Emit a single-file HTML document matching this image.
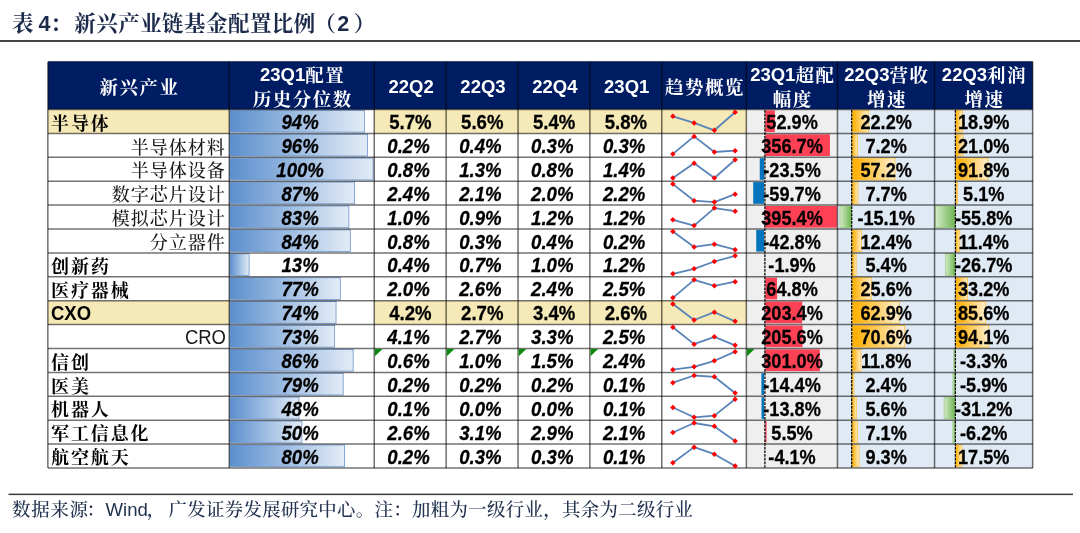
<!DOCTYPE html>
<html lang="zh-CN">
<head>
<meta charset="utf-8">
<title>表 4：新兴产业链基金配置比例（2）</title>
<style>
html,body{margin:0;padding:0;background:#fff;}
body{width:1080px;height:533px;position:relative;overflow:hidden;font-family:"Liberation Sans","Noto Serif CJK SC",sans-serif;}
svg{position:absolute;left:0;top:0;}
div,h1,p{position:absolute;white-space:nowrap;line-height:24px;font-size:18.5px;margin:0;padding:0;}
.title{left:12px;top:10.2px;font-size:21.5px;font-weight:700;color:#1b2a4a;letter-spacing:0.45px;line-height:28px;word-spacing:-2px;}
.title span{letter-spacing:0;font-size:21.5px;}
.title .c{margin-right:2px;letter-spacing:0.45px;}
.title .p{margin-left:-1.5px;margin-right:1px;letter-spacing:0.45px;}
.title .q{margin-left:4.5px;}
.foot{left:12px;top:498.2px;font-size:18.4px;color:#22324f;letter-spacing:0.35px;line-height:24px;font-weight:500;}
.foot span{letter-spacing:0;font-size:18.6px;}
.foot .a{letter-spacing:0.8px;font-size:18.4px;}
.foot .c{letter-spacing:0;font-size:18.4px;margin-left:-2.3px;margin-right:0.6px;}
.foot .m{letter-spacing:0;font-size:18.4px;margin-left:-1px;margin-right:3.2px;}
.h{color:#fff;font-weight:700;text-align:center;font-size:18.5px;letter-spacing:1.5px;text-indent:1.5px;}
.h span{letter-spacing:0;position:relative;top:-1.1px;}
.n{color:#000;letter-spacing:1px;font-size:18px;}
.b{font-weight:700;text-align:left;letter-spacing:1.9px;}
.s{font-weight:500;text-align:right;color:#1a1a1a;}
.s span,.b span{letter-spacing:0;position:relative;top:-1.2px;font-size:18.5px;display:inline-block;transform:scaleY(1.045);transform-origin:50% 76%;}
.v{color:#000;font-weight:700;text-align:center;font-size:18.6px;-webkit-text-stroke:0.25px #000;transform:scaleY(1.04);transform-origin:50% 76%;}
.w{font-size:18.15px;transform:scaleY(1.065);}
.i{font-style:italic;margin-left:-1.8px;}
</style>
</head>
<body>
<svg width="1080" height="533" viewBox="0 0 1080 533">
<defs><linearGradient id="gb" x1="0" y1="0" x2="1" y2="0"><stop offset="0" stop-color="#5B8FCD"/><stop offset="1" stop-color="#E3ECF7"/></linearGradient><linearGradient id="go" x1="0" y1="0" x2="1" y2="0"><stop offset="0" stop-color="#FFB000"/><stop offset="0.12" stop-color="#FFB410"/><stop offset="1" stop-color="#FFEFD0"/></linearGradient><linearGradient id="gg" x1="0" y1="0" x2="1" y2="0"><stop offset="0" stop-color="#D3EAC8"/><stop offset="1" stop-color="#6FB552"/></linearGradient></defs>
<rect x="0.00" y="40.00" width="1080.00" height="2.00" fill="#454545"/>
<rect x="8.50" y="493.60" width="1064.50" height="1.50" fill="#3a3a3a"/>
<rect x="48.00" y="61.80" width="984.80" height="47.70" fill="#001D64"/>
<rect x="746.50" y="109.50" width="91.10" height="358.50" fill="#EFEFEF"/>
<rect x="837.60" y="109.50" width="195.20" height="358.50" fill="#E0EAF4"/>
<rect x="48.00" y="109.50" width="181.40" height="23.90" fill="#F5E9B7"/>
<rect x="374.40" y="109.50" width="372.10" height="23.90" fill="#F5E9B7"/>
<rect x="48.00" y="300.70" width="181.40" height="23.90" fill="#F5E9B7"/>
<rect x="374.40" y="300.70" width="372.10" height="23.90" fill="#F5E9B7"/>
<rect x="229.90" y="110.40" width="134.65" height="21.70" fill="url(#gb)" stroke="#6A94CC" stroke-width="0.8"/>
<rect x="765.30" y="110.40" width="9.59" height="21.70" fill="#FF4156"/>
<rect x="852.10" y="110.40" width="16.61" height="21.70" fill="url(#go)" stroke="#FFBE3C" stroke-width="0.8"/>
<rect x="955.80" y="110.40" width="6.60" height="21.70" fill="url(#go)" stroke="#FFBE3C" stroke-width="0.8"/>
<rect x="229.90" y="134.30" width="137.50" height="21.70" fill="url(#gb)" stroke="#6A94CC" stroke-width="0.8"/>
<rect x="765.30" y="134.30" width="64.63" height="21.70" fill="#FF4156"/>
<rect x="852.10" y="134.30" width="5.39" height="21.70" fill="url(#go)" stroke="#FFBE3C" stroke-width="0.8"/>
<rect x="955.80" y="134.30" width="7.33" height="21.70" fill="url(#go)" stroke="#FFBE3C" stroke-width="0.8"/>
<rect x="229.90" y="158.20" width="143.20" height="21.70" fill="url(#gb)" stroke="#6A94CC" stroke-width="0.8"/>
<rect x="759.74" y="158.20" width="4.26" height="21.70" fill="#0075BE"/>
<rect x="852.10" y="158.20" width="42.79" height="21.70" fill="url(#go)" stroke="#FFBE3C" stroke-width="0.8"/>
<rect x="955.80" y="158.20" width="32.04" height="21.70" fill="url(#go)" stroke="#FFBE3C" stroke-width="0.8"/>
<rect x="229.90" y="182.10" width="124.68" height="21.70" fill="url(#gb)" stroke="#6A94CC" stroke-width="0.8"/>
<rect x="753.18" y="182.10" width="10.82" height="21.70" fill="#0075BE"/>
<rect x="852.10" y="182.10" width="5.76" height="21.70" fill="url(#go)" stroke="#FFBE3C" stroke-width="0.8"/>
<rect x="955.80" y="182.10" width="1.78" height="21.70" fill="url(#go)" stroke="#FFBE3C" stroke-width="0.8"/>
<rect x="229.90" y="206.00" width="118.98" height="21.70" fill="url(#gb)" stroke="#6A94CC" stroke-width="0.8"/>
<rect x="765.30" y="206.00" width="71.65" height="21.70" fill="#FF4156"/>
<rect x="840.01" y="206.00" width="11.29" height="21.70" fill="url(#gg)" stroke="#8CC56F" stroke-width="0.6"/>
<rect x="935.53" y="206.00" width="19.47" height="21.70" fill="url(#gg)" stroke="#8CC56F" stroke-width="0.6"/>
<rect x="229.90" y="229.90" width="120.40" height="21.70" fill="url(#gb)" stroke="#6A94CC" stroke-width="0.8"/>
<rect x="756.24" y="229.90" width="7.76" height="21.70" fill="#0075BE"/>
<rect x="852.10" y="229.90" width="9.28" height="21.70" fill="url(#go)" stroke="#FFBE3C" stroke-width="0.8"/>
<rect x="955.80" y="229.90" width="3.98" height="21.70" fill="url(#go)" stroke="#FFBE3C" stroke-width="0.8"/>
<rect x="229.90" y="253.80" width="19.23" height="21.70" fill="url(#gb)" stroke="#6A94CC" stroke-width="0.8"/>
<rect x="852.10" y="253.80" width="4.04" height="21.70" fill="url(#go)" stroke="#FFBE3C" stroke-width="0.8"/>
<rect x="945.68" y="253.80" width="9.32" height="21.70" fill="url(#gg)" stroke="#8CC56F" stroke-width="0.6"/>
<rect x="229.90" y="277.70" width="110.43" height="21.70" fill="url(#gb)" stroke="#6A94CC" stroke-width="0.8"/>
<rect x="765.30" y="277.70" width="11.74" height="21.70" fill="#FF4156"/>
<rect x="852.10" y="277.70" width="19.15" height="21.70" fill="url(#go)" stroke="#FFBE3C" stroke-width="0.8"/>
<rect x="955.80" y="277.70" width="11.59" height="21.70" fill="url(#go)" stroke="#FFBE3C" stroke-width="0.8"/>
<rect x="229.90" y="301.60" width="106.15" height="21.70" fill="url(#gb)" stroke="#6A94CC" stroke-width="0.8"/>
<rect x="765.30" y="301.60" width="36.86" height="21.70" fill="#FF4156"/>
<rect x="852.10" y="301.60" width="47.05" height="21.70" fill="url(#go)" stroke="#FFBE3C" stroke-width="0.8"/>
<rect x="955.80" y="301.60" width="29.87" height="21.70" fill="url(#go)" stroke="#FFBE3C" stroke-width="0.8"/>
<rect x="229.90" y="325.50" width="104.73" height="21.70" fill="url(#gb)" stroke="#6A94CC" stroke-width="0.8"/>
<rect x="765.30" y="325.50" width="37.25" height="21.70" fill="#FF4156"/>
<rect x="852.10" y="325.50" width="52.81" height="21.70" fill="url(#go)" stroke="#FFBE3C" stroke-width="0.8"/>
<rect x="955.80" y="325.50" width="32.84" height="21.70" fill="url(#go)" stroke="#FFBE3C" stroke-width="0.8"/>
<rect x="229.90" y="349.40" width="123.25" height="21.70" fill="url(#gb)" stroke="#6A94CC" stroke-width="0.8"/>
<rect x="765.30" y="349.40" width="54.54" height="21.70" fill="#FF4156"/>
<rect x="852.10" y="349.40" width="8.83" height="21.70" fill="url(#go)" stroke="#FFBE3C" stroke-width="0.8"/>
<rect x="953.85" y="349.40" width="1.15" height="21.70" fill="url(#gg)" stroke="#8CC56F" stroke-width="0.6"/>
<rect x="229.90" y="373.30" width="113.28" height="21.70" fill="url(#gb)" stroke="#6A94CC" stroke-width="0.8"/>
<rect x="761.39" y="373.30" width="2.61" height="21.70" fill="#0075BE"/>
<rect x="852.10" y="373.30" width="1.80" height="21.70" fill="url(#go)" stroke="#FFBE3C" stroke-width="0.8"/>
<rect x="952.94" y="373.30" width="2.06" height="21.70" fill="url(#gg)" stroke="#8CC56F" stroke-width="0.6"/>
<rect x="229.90" y="397.20" width="69.10" height="21.70" fill="url(#gb)" stroke="#6A94CC" stroke-width="0.8"/>
<rect x="761.50" y="397.20" width="2.50" height="21.70" fill="#0075BE"/>
<rect x="852.10" y="397.20" width="4.19" height="21.70" fill="url(#go)" stroke="#FFBE3C" stroke-width="0.8"/>
<rect x="944.11" y="397.20" width="10.89" height="21.70" fill="url(#gg)" stroke="#8CC56F" stroke-width="0.6"/>
<rect x="229.90" y="421.10" width="71.95" height="21.70" fill="url(#gb)" stroke="#6A94CC" stroke-width="0.8"/>
<rect x="765.30" y="421.10" width="1.30" height="21.70" fill="#FF4156"/>
<rect x="852.10" y="421.10" width="5.31" height="21.70" fill="url(#go)" stroke="#FFBE3C" stroke-width="0.8"/>
<rect x="952.84" y="421.10" width="2.16" height="21.70" fill="url(#gg)" stroke="#8CC56F" stroke-width="0.6"/>
<rect x="229.90" y="445.00" width="114.70" height="21.70" fill="url(#gb)" stroke="#6A94CC" stroke-width="0.8"/>
<rect x="852.10" y="445.00" width="6.96" height="21.70" fill="url(#go)" stroke="#FFBE3C" stroke-width="0.8"/>
<rect x="955.80" y="445.00" width="6.11" height="21.70" fill="url(#go)" stroke="#FFBE3C" stroke-width="0.8"/>
<line x1="48.00" y1="109.50" x2="1032.80" y2="109.50" stroke="#000" stroke-width="1.5" stroke-opacity="0.55"/>
<line x1="48.00" y1="133.40" x2="1032.80" y2="133.40" stroke="#000" stroke-width="1.5" stroke-opacity="0.55"/>
<line x1="48.00" y1="157.30" x2="1032.80" y2="157.30" stroke="#000" stroke-width="1.5" stroke-opacity="0.55"/>
<line x1="48.00" y1="181.20" x2="1032.80" y2="181.20" stroke="#000" stroke-width="1.5" stroke-opacity="0.55"/>
<line x1="48.00" y1="205.10" x2="1032.80" y2="205.10" stroke="#000" stroke-width="1.5" stroke-opacity="0.55"/>
<line x1="48.00" y1="229.00" x2="1032.80" y2="229.00" stroke="#000" stroke-width="1.5" stroke-opacity="0.55"/>
<line x1="48.00" y1="252.90" x2="1032.80" y2="252.90" stroke="#000" stroke-width="1.5" stroke-opacity="0.55"/>
<line x1="48.00" y1="276.80" x2="1032.80" y2="276.80" stroke="#000" stroke-width="1.5" stroke-opacity="0.55"/>
<line x1="48.00" y1="300.70" x2="1032.80" y2="300.70" stroke="#000" stroke-width="1.5" stroke-opacity="0.55"/>
<line x1="48.00" y1="324.60" x2="1032.80" y2="324.60" stroke="#000" stroke-width="1.5" stroke-opacity="0.55"/>
<line x1="48.00" y1="348.50" x2="1032.80" y2="348.50" stroke="#000" stroke-width="1.5" stroke-opacity="0.55"/>
<line x1="48.00" y1="372.40" x2="1032.80" y2="372.40" stroke="#000" stroke-width="1.5" stroke-opacity="0.55"/>
<line x1="48.00" y1="396.30" x2="1032.80" y2="396.30" stroke="#000" stroke-width="1.5" stroke-opacity="0.55"/>
<line x1="48.00" y1="420.20" x2="1032.80" y2="420.20" stroke="#000" stroke-width="1.5" stroke-opacity="0.55"/>
<line x1="48.00" y1="444.10" x2="1032.80" y2="444.10" stroke="#000" stroke-width="1.5" stroke-opacity="0.55"/>
<line x1="48.00" y1="468.00" x2="1032.80" y2="468.00" stroke="#000" stroke-width="1.5" stroke-opacity="0.55"/>
<line x1="47.85" y1="61.80" x2="47.85" y2="468.00" stroke="#000" stroke-width="1.5" stroke-opacity="0.56"/>
<line x1="229.25" y1="61.80" x2="229.25" y2="468.00" stroke="#000" stroke-width="1.5" stroke-opacity="0.56"/>
<line x1="374.25" y1="61.80" x2="374.25" y2="468.00" stroke="#000" stroke-width="1.5" stroke-opacity="0.56"/>
<line x1="446.15" y1="61.80" x2="446.15" y2="468.00" stroke="#000" stroke-width="1.5" stroke-opacity="0.56"/>
<line x1="518.05" y1="61.80" x2="518.05" y2="468.00" stroke="#000" stroke-width="1.5" stroke-opacity="0.56"/>
<line x1="589.85" y1="61.80" x2="589.85" y2="468.00" stroke="#000" stroke-width="1.5" stroke-opacity="0.56"/>
<line x1="661.75" y1="61.80" x2="661.75" y2="468.00" stroke="#000" stroke-width="1.5" stroke-opacity="0.56"/>
<line x1="746.35" y1="61.80" x2="746.35" y2="468.00" stroke="#000" stroke-width="1.5" stroke-opacity="0.56"/>
<line x1="837.45" y1="61.80" x2="837.45" y2="468.00" stroke="#000" stroke-width="1.5" stroke-opacity="0.56"/>
<line x1="934.55" y1="61.80" x2="934.55" y2="468.00" stroke="#000" stroke-width="1.5" stroke-opacity="0.56"/>
<line x1="1032.65" y1="61.80" x2="1032.65" y2="468.00" stroke="#000" stroke-width="1.5" stroke-opacity="0.56"/>
<line x1="48.00" y1="61.80" x2="1032.80" y2="61.80" stroke="#0a1238" stroke-width="1.0"/>
<line x1="764.90" y1="110.00" x2="764.90" y2="467.50" stroke="#000" stroke-width="1.25" stroke-dasharray="2.7 1.0"/>
<line x1="851.70" y1="110.00" x2="851.70" y2="467.50" stroke="#000" stroke-width="1.25" stroke-dasharray="2.7 1.0"/>
<line x1="955.40" y1="110.00" x2="955.40" y2="467.50" stroke="#000" stroke-width="1.25" stroke-dasharray="2.7 1.0"/>
<path d="M374.90 349.00h7.6l-7.6 7.2z" fill="#0A8A0A"/>
<path d="M446.80 349.00h7.6l-7.6 7.2z" fill="#0A8A0A"/>
<path d="M518.70 349.00h7.6l-7.6 7.2z" fill="#0A8A0A"/>
<path d="M590.50 349.00h7.6l-7.6 7.2z" fill="#0A8A0A"/>
<path d="M747.00 349.00h7.6l-7.6 7.2z" fill="#0A8A0A"/>
<polyline points="672.9,116.3 694.1,122.9 714.4,130.3 735.1,112.2" fill="none" stroke="#5884B8" stroke-width="1.8" stroke-linejoin="round"/>
<path d="M672.9 113.5l2.75 2.75l-2.75 2.75l-2.75 -2.75z" fill="#F00"/>
<path d="M694.1 120.2l2.75 2.75l-2.75 2.75l-2.75 -2.75z" fill="#F00"/>
<path d="M714.4 127.6l2.75 2.75l-2.75 2.75l-2.75 -2.75z" fill="#F00"/>
<path d="M735.1 109.5l2.75 2.75l-2.75 2.75l-2.75 -2.75z" fill="#F00"/>
<polyline points="672.9,153.9 694.1,136.4 714.4,152.0 735.1,150.7" fill="none" stroke="#5884B8" stroke-width="1.8" stroke-linejoin="round"/>
<path d="M672.9 151.2l2.75 2.75l-2.75 2.75l-2.75 -2.75z" fill="#F00"/>
<path d="M694.1 133.7l2.75 2.75l-2.75 2.75l-2.75 -2.75z" fill="#F00"/>
<path d="M714.4 149.2l2.75 2.75l-2.75 2.75l-2.75 -2.75z" fill="#F00"/>
<path d="M735.1 147.9l2.75 2.75l-2.75 2.75l-2.75 -2.75z" fill="#F00"/>
<polyline points="672.9,178.0 694.1,163.2 714.4,178.0 735.1,159.8" fill="none" stroke="#5884B8" stroke-width="1.8" stroke-linejoin="round"/>
<path d="M672.9 175.2l2.75 2.75l-2.75 2.75l-2.75 -2.75z" fill="#F00"/>
<path d="M694.1 160.4l2.75 2.75l-2.75 2.75l-2.75 -2.75z" fill="#F00"/>
<path d="M714.4 175.2l2.75 2.75l-2.75 2.75l-2.75 -2.75z" fill="#F00"/>
<path d="M735.1 157.1l2.75 2.75l-2.75 2.75l-2.75 -2.75z" fill="#F00"/>
<polyline points="672.9,184.1 694.1,200.7 714.4,202.1 735.1,194.2" fill="none" stroke="#5884B8" stroke-width="1.8" stroke-linejoin="round"/>
<path d="M672.9 181.3l2.75 2.75l-2.75 2.75l-2.75 -2.75z" fill="#F00"/>
<path d="M694.1 197.9l2.75 2.75l-2.75 2.75l-2.75 -2.75z" fill="#F00"/>
<path d="M714.4 199.3l2.75 2.75l-2.75 2.75l-2.75 -2.75z" fill="#F00"/>
<path d="M735.1 191.4l2.75 2.75l-2.75 2.75l-2.75 -2.75z" fill="#F00"/>
<polyline points="672.9,219.8 694.1,225.6 714.4,208.1 735.1,211.2" fill="none" stroke="#5884B8" stroke-width="1.8" stroke-linejoin="round"/>
<path d="M672.9 217.1l2.75 2.75l-2.75 2.75l-2.75 -2.75z" fill="#F00"/>
<path d="M694.1 222.8l2.75 2.75l-2.75 2.75l-2.75 -2.75z" fill="#F00"/>
<path d="M714.4 205.3l2.75 2.75l-2.75 2.75l-2.75 -2.75z" fill="#F00"/>
<path d="M735.1 208.4l2.75 2.75l-2.75 2.75l-2.75 -2.75z" fill="#F00"/>
<polyline points="672.9,231.5 694.1,246.9 714.4,244.2 735.1,249.7" fill="none" stroke="#5884B8" stroke-width="1.8" stroke-linejoin="round"/>
<path d="M672.9 228.8l2.75 2.75l-2.75 2.75l-2.75 -2.75z" fill="#F00"/>
<path d="M694.1 244.2l2.75 2.75l-2.75 2.75l-2.75 -2.75z" fill="#F00"/>
<path d="M714.4 241.4l2.75 2.75l-2.75 2.75l-2.75 -2.75z" fill="#F00"/>
<path d="M735.1 246.9l2.75 2.75l-2.75 2.75l-2.75 -2.75z" fill="#F00"/>
<polyline points="672.9,273.8 694.1,268.9 714.4,261.5 735.1,255.8" fill="none" stroke="#5884B8" stroke-width="1.8" stroke-linejoin="round"/>
<path d="M672.9 271.1l2.75 2.75l-2.75 2.75l-2.75 -2.75z" fill="#F00"/>
<path d="M694.1 266.1l2.75 2.75l-2.75 2.75l-2.75 -2.75z" fill="#F00"/>
<path d="M714.4 258.8l2.75 2.75l-2.75 2.75l-2.75 -2.75z" fill="#F00"/>
<path d="M735.1 253.1l2.75 2.75l-2.75 2.75l-2.75 -2.75z" fill="#F00"/>
<polyline points="672.9,297.9 694.1,279.9 714.4,285.8 735.1,281.7" fill="none" stroke="#5884B8" stroke-width="1.8" stroke-linejoin="round"/>
<path d="M672.9 295.1l2.75 2.75l-2.75 2.75l-2.75 -2.75z" fill="#F00"/>
<path d="M694.1 277.1l2.75 2.75l-2.75 2.75l-2.75 -2.75z" fill="#F00"/>
<path d="M714.4 283.1l2.75 2.75l-2.75 2.75l-2.75 -2.75z" fill="#F00"/>
<path d="M735.1 278.9l2.75 2.75l-2.75 2.75l-2.75 -2.75z" fill="#F00"/>
<polyline points="672.9,304.0 694.1,320.0 714.4,312.2 735.1,321.4" fill="none" stroke="#5884B8" stroke-width="1.8" stroke-linejoin="round"/>
<path d="M672.9 301.2l2.75 2.75l-2.75 2.75l-2.75 -2.75z" fill="#F00"/>
<path d="M694.1 317.2l2.75 2.75l-2.75 2.75l-2.75 -2.75z" fill="#F00"/>
<path d="M714.4 309.4l2.75 2.75l-2.75 2.75l-2.75 -2.75z" fill="#F00"/>
<path d="M735.1 318.6l2.75 2.75l-2.75 2.75l-2.75 -2.75z" fill="#F00"/>
<polyline points="672.9,327.3 694.1,344.1 714.4,336.8 735.1,345.3" fill="none" stroke="#5884B8" stroke-width="1.8" stroke-linejoin="round"/>
<path d="M672.9 324.6l2.75 2.75l-2.75 2.75l-2.75 -2.75z" fill="#F00"/>
<path d="M694.1 341.4l2.75 2.75l-2.75 2.75l-2.75 -2.75z" fill="#F00"/>
<path d="M714.4 334.1l2.75 2.75l-2.75 2.75l-2.75 -2.75z" fill="#F00"/>
<path d="M735.1 342.6l2.75 2.75l-2.75 2.75l-2.75 -2.75z" fill="#F00"/>
<polyline points="672.9,369.6 694.1,366.9 714.4,360.8 735.1,351.6" fill="none" stroke="#5884B8" stroke-width="1.8" stroke-linejoin="round"/>
<path d="M672.9 366.9l2.75 2.75l-2.75 2.75l-2.75 -2.75z" fill="#F00"/>
<path d="M694.1 364.1l2.75 2.75l-2.75 2.75l-2.75 -2.75z" fill="#F00"/>
<path d="M714.4 358.1l2.75 2.75l-2.75 2.75l-2.75 -2.75z" fill="#F00"/>
<path d="M735.1 348.9l2.75 2.75l-2.75 2.75l-2.75 -2.75z" fill="#F00"/>
<polyline points="672.9,382.7 694.1,375.5 714.4,376.8 735.1,393.0" fill="none" stroke="#5884B8" stroke-width="1.8" stroke-linejoin="round"/>
<path d="M672.9 379.9l2.75 2.75l-2.75 2.75l-2.75 -2.75z" fill="#F00"/>
<path d="M694.1 372.8l2.75 2.75l-2.75 2.75l-2.75 -2.75z" fill="#F00"/>
<path d="M714.4 374.1l2.75 2.75l-2.75 2.75l-2.75 -2.75z" fill="#F00"/>
<path d="M735.1 390.2l2.75 2.75l-2.75 2.75l-2.75 -2.75z" fill="#F00"/>
<polyline points="672.9,407.5 694.1,417.3 714.4,415.6 735.1,399.2" fill="none" stroke="#5884B8" stroke-width="1.8" stroke-linejoin="round"/>
<path d="M672.9 404.8l2.75 2.75l-2.75 2.75l-2.75 -2.75z" fill="#F00"/>
<path d="M694.1 414.6l2.75 2.75l-2.75 2.75l-2.75 -2.75z" fill="#F00"/>
<path d="M714.4 412.9l2.75 2.75l-2.75 2.75l-2.75 -2.75z" fill="#F00"/>
<path d="M735.1 396.4l2.75 2.75l-2.75 2.75l-2.75 -2.75z" fill="#F00"/>
<polyline points="672.9,432.5 694.1,423.0 714.4,426.4 735.1,441.0" fill="none" stroke="#5884B8" stroke-width="1.8" stroke-linejoin="round"/>
<path d="M672.9 429.8l2.75 2.75l-2.75 2.75l-2.75 -2.75z" fill="#F00"/>
<path d="M694.1 420.2l2.75 2.75l-2.75 2.75l-2.75 -2.75z" fill="#F00"/>
<path d="M714.4 423.6l2.75 2.75l-2.75 2.75l-2.75 -2.75z" fill="#F00"/>
<path d="M735.1 438.2l2.75 2.75l-2.75 2.75l-2.75 -2.75z" fill="#F00"/>
<polyline points="672.9,462.8 694.1,447.1 714.4,454.2 735.1,466.0" fill="none" stroke="#5884B8" stroke-width="1.8" stroke-linejoin="round"/>
<path d="M672.9 460.1l2.75 2.75l-2.75 2.75l-2.75 -2.75z" fill="#F00"/>
<path d="M694.1 444.4l2.75 2.75l-2.75 2.75l-2.75 -2.75z" fill="#F00"/>
<path d="M714.4 451.4l2.75 2.75l-2.75 2.75l-2.75 -2.75z" fill="#F00"/>
<path d="M735.1 463.2l2.75 2.75l-2.75 2.75l-2.75 -2.75z" fill="#F00"/>
</svg>
<h1 class="title">表 <span>4</span><span class="c">：</span>新兴产业链基金配置比例<span class="p">（</span><span>2</span><span class="q">）</span></h1>
<div class="h" style="left:48.00px;top:75.70px;width:181.40px;">新兴产业</div>
<div class="h" style="left:229.40px;top:64.10px;width:145.00px;"><span>23Q1</span>配置</div>
<div class="h" style="left:229.40px;top:87.90px;width:145.00px;">历史分位数</div>
<div class="h" style="left:374.40px;top:75.70px;width:71.90px;"><span>22Q2</span></div>
<div class="h" style="left:446.30px;top:75.70px;width:71.90px;"><span>22Q3</span></div>
<div class="h" style="left:518.20px;top:75.70px;width:71.80px;"><span>22Q4</span></div>
<div class="h" style="left:590.00px;top:75.70px;width:71.90px;"><span>23Q1</span></div>
<div class="h" style="left:661.90px;top:75.70px;width:84.60px;">趋势概览</div>
<div class="h" style="left:746.50px;top:64.10px;width:91.10px;"><span>23Q1</span>超配</div>
<div class="h" style="left:746.50px;top:87.90px;width:91.10px;">幅度</div>
<div class="h" style="left:837.60px;top:64.10px;width:97.10px;"><span>22Q3</span>营收</div>
<div class="h" style="left:837.60px;top:87.90px;width:97.10px;">增速</div>
<div class="h" style="left:934.70px;top:64.10px;width:98.10px;"><span>22Q3</span>利润</div>
<div class="h" style="left:934.70px;top:87.90px;width:98.10px;">增速</div>
<div class="n b" style="left:51.00px;top:111.60px;width:175.40px;">半导体</div>
<div class="v i" style="left:229.40px;top:111.00px;width:145.00px;">94%</div>
<div class="v" style="left:374.40px;top:111.00px;width:71.90px;">5.7%</div>
<div class="v" style="left:446.30px;top:111.00px;width:71.90px;">5.6%</div>
<div class="v" style="left:518.20px;top:111.00px;width:71.80px;">5.4%</div>
<div class="v" style="left:590.00px;top:111.00px;width:71.90px;">5.8%</div>
<div class="v w" style="left:746.50px;top:111.00px;width:91.10px;">52.9%</div>
<div class="v w" style="left:837.60px;top:111.00px;width:97.10px;">22.2%</div>
<div class="v w" style="left:934.70px;top:111.00px;width:98.10px;">18.9%</div>
<div class="n s" style="left:48.00px;top:135.50px;width:177.80px;">半导体材料</div>
<div class="v i" style="left:229.40px;top:134.90px;width:145.00px;">96%</div>
<div class="v i" style="left:374.40px;top:134.90px;width:71.90px;">0.2%</div>
<div class="v i" style="left:446.30px;top:134.90px;width:71.90px;">0.4%</div>
<div class="v i" style="left:518.20px;top:134.90px;width:71.80px;">0.3%</div>
<div class="v i" style="left:590.00px;top:134.90px;width:71.90px;">0.3%</div>
<div class="v w" style="left:746.50px;top:134.90px;width:91.10px;">356.7%</div>
<div class="v w" style="left:837.60px;top:134.90px;width:97.10px;">7.2%</div>
<div class="v w" style="left:934.70px;top:134.90px;width:98.10px;">21.0%</div>
<div class="n s" style="left:48.00px;top:159.40px;width:177.80px;">半导体设备</div>
<div class="v i" style="left:229.40px;top:158.80px;width:145.00px;">100%</div>
<div class="v i" style="left:374.40px;top:158.80px;width:71.90px;">0.8%</div>
<div class="v i" style="left:446.30px;top:158.80px;width:71.90px;">1.3%</div>
<div class="v i" style="left:518.20px;top:158.80px;width:71.80px;">0.8%</div>
<div class="v i" style="left:590.00px;top:158.80px;width:71.90px;">1.4%</div>
<div class="v w" style="left:746.50px;top:158.80px;width:91.10px;">-23.5%</div>
<div class="v w" style="left:837.60px;top:158.80px;width:97.10px;">57.2%</div>
<div class="v w" style="left:934.70px;top:158.80px;width:98.10px;">91.8%</div>
<div class="n s" style="left:48.00px;top:183.30px;width:177.80px;">数字芯片设计</div>
<div class="v i" style="left:229.40px;top:182.70px;width:145.00px;">87%</div>
<div class="v i" style="left:374.40px;top:182.70px;width:71.90px;">2.4%</div>
<div class="v i" style="left:446.30px;top:182.70px;width:71.90px;">2.1%</div>
<div class="v i" style="left:518.20px;top:182.70px;width:71.80px;">2.0%</div>
<div class="v i" style="left:590.00px;top:182.70px;width:71.90px;">2.2%</div>
<div class="v w" style="left:746.50px;top:182.70px;width:91.10px;">-59.7%</div>
<div class="v w" style="left:837.60px;top:182.70px;width:97.10px;">7.7%</div>
<div class="v w" style="left:934.70px;top:182.70px;width:98.10px;">5.1%</div>
<div class="n s" style="left:48.00px;top:207.20px;width:177.80px;">模拟芯片设计</div>
<div class="v i" style="left:229.40px;top:206.60px;width:145.00px;">83%</div>
<div class="v i" style="left:374.40px;top:206.60px;width:71.90px;">1.0%</div>
<div class="v i" style="left:446.30px;top:206.60px;width:71.90px;">0.9%</div>
<div class="v i" style="left:518.20px;top:206.60px;width:71.80px;">1.2%</div>
<div class="v i" style="left:590.00px;top:206.60px;width:71.90px;">1.2%</div>
<div class="v w" style="left:746.50px;top:206.60px;width:91.10px;">395.4%</div>
<div class="v w" style="left:837.60px;top:206.60px;width:97.10px;">-15.1%</div>
<div class="v w" style="left:934.70px;top:206.60px;width:98.10px;">-55.8%</div>
<div class="n s" style="left:48.00px;top:231.10px;width:177.80px;">分立器件</div>
<div class="v i" style="left:229.40px;top:230.50px;width:145.00px;">84%</div>
<div class="v i" style="left:374.40px;top:230.50px;width:71.90px;">0.8%</div>
<div class="v i" style="left:446.30px;top:230.50px;width:71.90px;">0.3%</div>
<div class="v i" style="left:518.20px;top:230.50px;width:71.80px;">0.4%</div>
<div class="v i" style="left:590.00px;top:230.50px;width:71.90px;">0.2%</div>
<div class="v w" style="left:746.50px;top:230.50px;width:91.10px;">-42.8%</div>
<div class="v w" style="left:837.60px;top:230.50px;width:97.10px;">12.4%</div>
<div class="v w" style="left:934.70px;top:230.50px;width:98.10px;">11.4%</div>
<div class="n b" style="left:51.00px;top:255.00px;width:175.40px;">创新药</div>
<div class="v i" style="left:229.40px;top:254.40px;width:145.00px;">13%</div>
<div class="v i" style="left:374.40px;top:254.40px;width:71.90px;">0.4%</div>
<div class="v i" style="left:446.30px;top:254.40px;width:71.90px;">0.7%</div>
<div class="v i" style="left:518.20px;top:254.40px;width:71.80px;">1.0%</div>
<div class="v i" style="left:590.00px;top:254.40px;width:71.90px;">1.2%</div>
<div class="v w" style="left:746.50px;top:254.40px;width:91.10px;">-1.9%</div>
<div class="v w" style="left:837.60px;top:254.40px;width:97.10px;">5.4%</div>
<div class="v w" style="left:934.70px;top:254.40px;width:98.10px;">-26.7%</div>
<div class="n b" style="left:51.00px;top:278.90px;width:175.40px;">医疗器械</div>
<div class="v i" style="left:229.40px;top:278.30px;width:145.00px;">77%</div>
<div class="v i" style="left:374.40px;top:278.30px;width:71.90px;">2.0%</div>
<div class="v i" style="left:446.30px;top:278.30px;width:71.90px;">2.6%</div>
<div class="v i" style="left:518.20px;top:278.30px;width:71.80px;">2.4%</div>
<div class="v i" style="left:590.00px;top:278.30px;width:71.90px;">2.5%</div>
<div class="v w" style="left:746.50px;top:278.30px;width:91.10px;">64.8%</div>
<div class="v w" style="left:837.60px;top:278.30px;width:97.10px;">25.6%</div>
<div class="v w" style="left:934.70px;top:278.30px;width:98.10px;">33.2%</div>
<div class="n b" style="left:51.00px;top:302.80px;width:175.40px;"><span>CXO</span></div>
<div class="v i" style="left:229.40px;top:302.20px;width:145.00px;">74%</div>
<div class="v" style="left:374.40px;top:302.20px;width:71.90px;">4.2%</div>
<div class="v" style="left:446.30px;top:302.20px;width:71.90px;">2.7%</div>
<div class="v" style="left:518.20px;top:302.20px;width:71.80px;">3.4%</div>
<div class="v" style="left:590.00px;top:302.20px;width:71.90px;">2.6%</div>
<div class="v w" style="left:746.50px;top:302.20px;width:91.10px;">203.4%</div>
<div class="v w" style="left:837.60px;top:302.20px;width:97.10px;">62.9%</div>
<div class="v w" style="left:934.70px;top:302.20px;width:98.10px;">85.6%</div>
<div class="n s" style="left:48.00px;top:326.70px;width:178.00px;"><span>CRO</span></div>
<div class="v i" style="left:229.40px;top:326.10px;width:145.00px;">73%</div>
<div class="v i" style="left:374.40px;top:326.10px;width:71.90px;">4.1%</div>
<div class="v i" style="left:446.30px;top:326.10px;width:71.90px;">2.7%</div>
<div class="v i" style="left:518.20px;top:326.10px;width:71.80px;">3.3%</div>
<div class="v i" style="left:590.00px;top:326.10px;width:71.90px;">2.5%</div>
<div class="v w" style="left:746.50px;top:326.10px;width:91.10px;">205.6%</div>
<div class="v w" style="left:837.60px;top:326.10px;width:97.10px;">70.6%</div>
<div class="v w" style="left:934.70px;top:326.10px;width:98.10px;">94.1%</div>
<div class="n b" style="left:51.00px;top:350.60px;width:175.40px;">信创</div>
<div class="v i" style="left:229.40px;top:350.00px;width:145.00px;">86%</div>
<div class="v i" style="left:374.40px;top:350.00px;width:71.90px;">0.6%</div>
<div class="v i" style="left:446.30px;top:350.00px;width:71.90px;">1.0%</div>
<div class="v i" style="left:518.20px;top:350.00px;width:71.80px;">1.5%</div>
<div class="v i" style="left:590.00px;top:350.00px;width:71.90px;">2.4%</div>
<div class="v w" style="left:746.50px;top:350.00px;width:91.10px;">301.0%</div>
<div class="v w" style="left:837.60px;top:350.00px;width:97.10px;">11.8%</div>
<div class="v w" style="left:934.70px;top:350.00px;width:98.10px;">-3.3%</div>
<div class="n b" style="left:51.00px;top:374.50px;width:175.40px;">医美</div>
<div class="v i" style="left:229.40px;top:373.90px;width:145.00px;">79%</div>
<div class="v i" style="left:374.40px;top:373.90px;width:71.90px;">0.2%</div>
<div class="v i" style="left:446.30px;top:373.90px;width:71.90px;">0.2%</div>
<div class="v i" style="left:518.20px;top:373.90px;width:71.80px;">0.2%</div>
<div class="v i" style="left:590.00px;top:373.90px;width:71.90px;">0.1%</div>
<div class="v w" style="left:746.50px;top:373.90px;width:91.10px;">-14.4%</div>
<div class="v w" style="left:837.60px;top:373.90px;width:97.10px;">2.4%</div>
<div class="v w" style="left:934.70px;top:373.90px;width:98.10px;">-5.9%</div>
<div class="n b" style="left:51.00px;top:398.40px;width:175.40px;">机器人</div>
<div class="v i" style="left:229.40px;top:397.80px;width:145.00px;">48%</div>
<div class="v i" style="left:374.40px;top:397.80px;width:71.90px;">0.1%</div>
<div class="v i" style="left:446.30px;top:397.80px;width:71.90px;">0.0%</div>
<div class="v i" style="left:518.20px;top:397.80px;width:71.80px;">0.0%</div>
<div class="v i" style="left:590.00px;top:397.80px;width:71.90px;">0.1%</div>
<div class="v w" style="left:746.50px;top:397.80px;width:91.10px;">-13.8%</div>
<div class="v w" style="left:837.60px;top:397.80px;width:97.10px;">5.6%</div>
<div class="v w" style="left:934.70px;top:397.80px;width:98.10px;">-31.2%</div>
<div class="n b" style="left:51.00px;top:422.30px;width:175.40px;">军工信息化</div>
<div class="v i" style="left:229.40px;top:421.70px;width:145.00px;">50%</div>
<div class="v i" style="left:374.40px;top:421.70px;width:71.90px;">2.6%</div>
<div class="v i" style="left:446.30px;top:421.70px;width:71.90px;">3.1%</div>
<div class="v i" style="left:518.20px;top:421.70px;width:71.80px;">2.9%</div>
<div class="v i" style="left:590.00px;top:421.70px;width:71.90px;">2.1%</div>
<div class="v w" style="left:746.50px;top:421.70px;width:91.10px;">5.5%</div>
<div class="v w" style="left:837.60px;top:421.70px;width:97.10px;">7.1%</div>
<div class="v w" style="left:934.70px;top:421.70px;width:98.10px;">-6.2%</div>
<div class="n b" style="left:51.00px;top:446.20px;width:175.40px;">航空航天</div>
<div class="v i" style="left:229.40px;top:445.60px;width:145.00px;">80%</div>
<div class="v i" style="left:374.40px;top:445.60px;width:71.90px;">0.2%</div>
<div class="v i" style="left:446.30px;top:445.60px;width:71.90px;">0.3%</div>
<div class="v i" style="left:518.20px;top:445.60px;width:71.80px;">0.3%</div>
<div class="v i" style="left:590.00px;top:445.60px;width:71.90px;">0.1%</div>
<div class="v w" style="left:746.50px;top:445.60px;width:91.10px;">-4.1%</div>
<div class="v w" style="left:837.60px;top:445.60px;width:97.10px;">9.3%</div>
<div class="v w" style="left:934.70px;top:445.60px;width:98.10px;">17.5%</div>
<p class="foot"><span class="a">数据来源</span><span class="c">：</span><span>Wind</span><span class="m">，</span>广发证券发展研究中心。注：加粗为一级行业，其余为二级行业</p>
</body>
</html>
